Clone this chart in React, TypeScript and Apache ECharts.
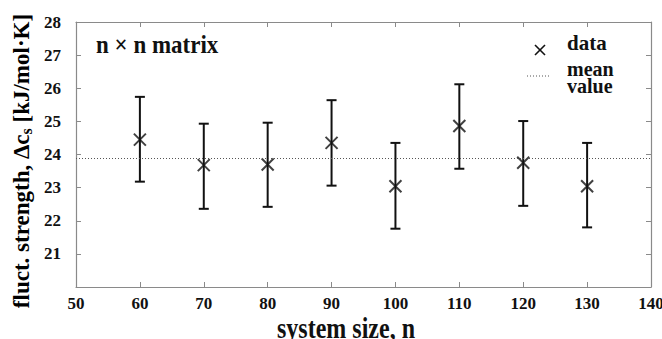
import React, { useEffect, useRef } from "react";
import * as echarts from "echarts";

const sizes = [60, 70, 80, 90, 100, 110, 120, 130];
const values = [24.45, 23.68, 23.70, 24.35, 23.04, 24.86, 23.75, 23.04];
const lower = [23.18, 22.36, 22.42, 23.06, 21.76, 23.57, 22.45, 21.80];
const upper = [25.74, 24.93, 24.96, 25.64, 24.35, 26.12, 25.01, 24.35];
const meanValue = 23.88;
const xTicks = { min: 50, max: 140, interval: 10 };
const yTicks = { min: 20, max: 28, interval: 1 };

const FONT = "Liberation Serif";
const FRAME = "#8a8a8a";

const txt = (text: string, size: number, extra: any = {}) => ({
  text,
  fontFamily: FONT,
  fontWeight: "bold",
  fontSize: size,
  fill: "#111",
  ...extra,
});

export default function App() {
  const ref = useRef<HTMLDivElement>(null);
  useEffect(() => {
    if (!ref.current) return;
    const chart = echarts.init(ref.current, undefined, { renderer: "svg" });
    const labelStyle = { fontFamily: FONT, fontWeight: "bold", fontSize: 17, color: "#111" };
    const tickStyle = { show: true, inside: true, length: 5, lineStyle: { color: FRAME, width: 1 } };
    const lineStyle = { show: true, lineStyle: { color: FRAME, width: 1.2 } };
    const option: any = {
      animation: false,
      backgroundColor: "#fff",
      textStyle: { fontFamily: FONT },
      grid: { left: 76, right: 11, top: 22, bottom: 52, containLabel: false, outerBoundsMode: "none" },
      xAxis: [
        {
          type: "value", min: xTicks.min, max: xTicks.max, interval: xTicks.interval,
          axisLine: lineStyle, axisTick: tickStyle, splitLine: { show: false },
          axisLabel: { ...labelStyle, margin: 8 },
        },
        {
          type: "value", position: "top", min: xTicks.min, max: xTicks.max, interval: xTicks.interval,
          axisLine: lineStyle, axisTick: tickStyle, splitLine: { show: false }, axisLabel: { show: false },
        },
      ],
      yAxis: [
        {
          type: "value", min: yTicks.min, max: yTicks.max, interval: yTicks.interval,
          axisLine: lineStyle, axisTick: tickStyle, splitLine: { show: false },
          axisLabel: { ...labelStyle, margin: 15, formatter: (v: number) => (v === yTicks.min ? "" : String(v)) },
        },
        {
          type: "value", position: "right", min: yTicks.min, max: yTicks.max, interval: yTicks.interval,
          axisLine: lineStyle, axisTick: tickStyle, splitLine: { show: false }, axisLabel: { show: false },
        },
      ],
      series: [
        {
          type: "custom",
          xAxisIndex: 0, yAxisIndex: 0,
          data: sizes.map((s, i) => [s, lower[i], upper[i]]),
          renderItem: (params: any, api: any) => {
            const x = api.value(0);
            const lo = api.coord([x, api.value(1)]);
            const hi = api.coord([x, api.value(2)]);
            const hw = 5;
            const st = { stroke: "#111", lineWidth: 2 };
            return {
              type: "group",
              children: [
                { type: "line", shape: { x1: lo[0], y1: lo[1], x2: hi[0], y2: hi[1] }, style: st },
                { type: "line", shape: { x1: lo[0] - hw, y1: lo[1], x2: lo[0] + hw, y2: lo[1] }, style: st },
                { type: "line", shape: { x1: hi[0] - hw, y1: hi[1], x2: hi[0] + hw, y2: hi[1] }, style: st },
              ],
            };
          },
          z: 3,
        },
        {
          type: "scatter",
          xAxisIndex: 0, yAxisIndex: 0,
          data: sizes.map((s, i) => [s, values[i]]),
          symbol: "path://M0,0L10,10M10,0L0,10",
          symbolSize: 12,
          itemStyle: { color: "none", borderColor: "#111", borderWidth: 2 },
          z: 4,
          markLine: {
            silent: true,
            symbol: "none",
            label: { show: false },
            lineStyle: { color: "#555", type: [1, 2], width: 1.2 },
            data: [{ yAxis: meanValue }],
          },
        },
      ],
      graphic: [
        {
          type: "text", x: 96, y: 44, scaleY: 1.12,
          style: txt("n × n matrix", 23, { textVerticalAlign: "middle" }),
        },
        {
          type: "line", shape: { x1: 535, y1: 45, x2: 545, y2: 55 },
          style: { stroke: "#111", lineWidth: 1.6 },
        },
        {
          type: "line", shape: { x1: 545, y1: 45, x2: 535, y2: 55 },
          style: { stroke: "#111", lineWidth: 1.6 },
        },
        {
          type: "line", shape: { x1: 527, y1: 76, x2: 550, y2: 76 },
          style: { stroke: "#555", lineWidth: 1, lineDash: [1, 2] },
        },
        {
          type: "text", x: 567, y: 43,
          style: txt("data", 21, { textVerticalAlign: "middle" }),
        },
        {
          type: "text", x: 567, y: 69,
          style: txt("mean", 20, { textVerticalAlign: "middle" }),
        },
        {
          type: "text", x: 567, y: 86,
          style: txt("value", 20, { textVerticalAlign: "middle" }),
        },
        {
          type: "text", x: 346, y: 328, scaleY: 1.22,
          style: txt("system size, n", 24, { textAlign: "center", textVerticalAlign: "middle" }),
        },
        {
          type: "text", x: 21, y: 161, rotation: Math.PI / 2,
          style: {
            text: "{a|fluct. strength, Δc}{s|s}{a| [kJ/mol·K]}",
            textAlign: "center", textVerticalAlign: "middle",
            rich: {
              a: { fontFamily: FONT, fontWeight: "bold", fontSize: 23, lineHeight: 26, color: "#111", verticalAlign: "middle" },
              s: { fontFamily: FONT, fontWeight: "bold", fontSize: 16, lineHeight: 16, color: "#111", verticalAlign: "bottom", padding: [8, 0, 0, 0] },
            },
          },
        },
      ],
    };
    chart.setOption(option);
    return () => chart.dispose();
  }, []);
  return <div ref={ref} style={{ position: "absolute", left: 0, top: 0, width: 662, height: 339 }} />;
}
